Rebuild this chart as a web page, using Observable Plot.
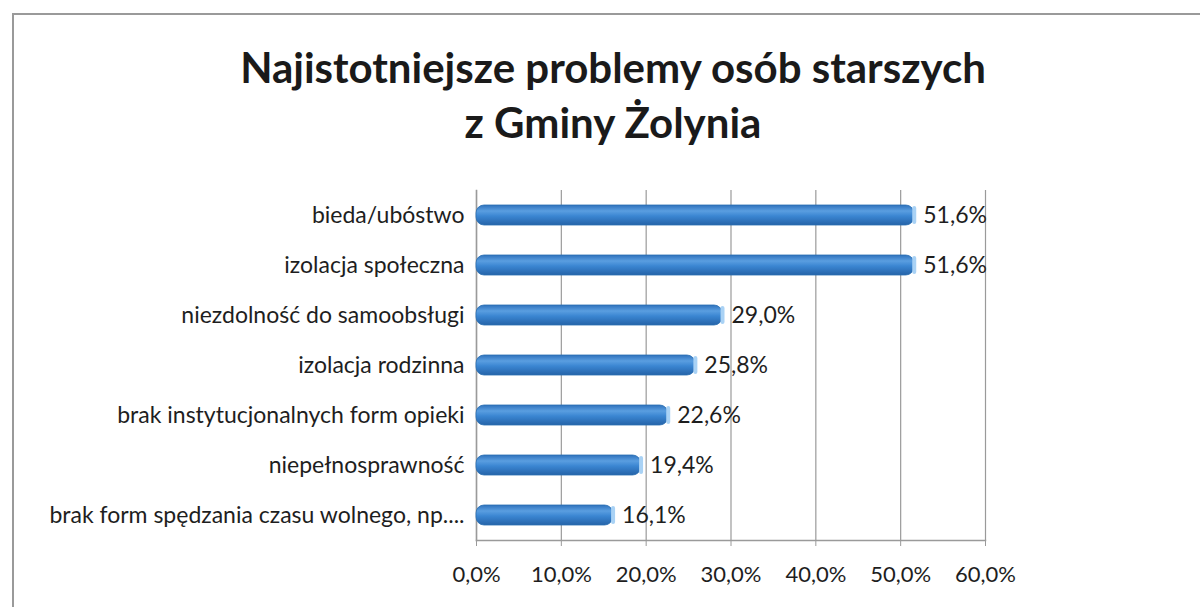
<!DOCTYPE html>
<html>
<head>
<meta charset="utf-8">
<script src="https://cdn.jsdelivr.net/npm/d3@7"></script>
<script src="https://cdn.jsdelivr.net/npm/@observablehq/plot@0.6"></script>
<style>
  html, body { margin: 0; padding: 0; background: #fff; }
  body { width: 1200px; height: 607px; position: relative; overflow: hidden; font-family: Lato, "Open Sans", sans-serif; }
  #frame { position: absolute; left: 12px; top: 13px; width: 1200px; height: 620px; border-top: 2px solid #9a9a9a; border-left: 2px solid #9a9a9a; }
  #title { position: absolute; left: 0; top: 40px; width: 1226px; text-align: center; font-weight: 700; font-size: 42px; line-height: 55px; color: #1a1a1a; }
  #chart { position: absolute; left: 0; top: 160px; }
</style>
</head>
<body>
<div id="frame"></div>
<div id="title">Najistotniejsze problemy osób starszych<br>z Gminy Żolynia</div>
<div id="chart"></div>
<script>
const categories = [
  "bieda/ubóstwo",
  "izolacja społeczna",
  "niezdolność do samoobsługi",
  "izolacja rodzinna",
  "brak instytucjonalnych form opieki",
  "niepełnosprawność",
  "brak form spędzania czasu wolnego, np...."
];
const values = [51.6, 51.6, 29.0, 25.8, 22.6, 19.4, 16.1];
const xTicks = [0, 10, 20, 30, 40, 50, 60];

const data = categories.map((c, i) => ({category: c, value: values[i]}));
const fmt = v => v.toFixed(1).replace(".", ",") + "%";

const plot = Plot.plot({
  width: 1200,
  height: 447,
  marginLeft: 476,
  marginRight: 215,
  marginTop: 30,
  marginBottom: 67,
  style: {fontFamily: "Lato, 'Open Sans', sans-serif", fontSize: "23px", color: "#1e1e1e", background: "transparent"},
  x: {domain: [0, 60], ticks: xTicks, tickFormat: fmt, label: null},
  y: {domain: categories, label: null, paddingInner: 0.6, paddingOuter: 0.3},
  marks: [
    Plot.ruleX(xTicks, {stroke: "#9a9a9a", strokeWidth: 1.2}),
    Plot.frame({anchor: "bottom", stroke: "#9a9a9a", strokeWidth: 1.5}),
    Plot.frame({anchor: "left", stroke: "#9a9a9a", strokeWidth: 1.5}),
    Plot.axisX({ticks: xTicks, tickFormat: fmt, tickSize: 6, tickPadding: 20, stroke: "#9a9a9a", fontSize: 22}),
    Plot.axisY({tickSize: 0, tickPadding: 12, fontSize: 23}),
    Plot.barX(data, {x: "value", y: "category", fill: "url(#cyl)", rx: 8, stroke: "#2a6fb3", strokeWidth: 0.8}),
    Plot.tickX(data, {x: "value", y: "category", stroke: "#a9d2f5", strokeWidth: 4, inset: 3, strokeLinecap: "round"}),
    Plot.text(data, {x: "value", y: "category", text: d => fmt(d.value), textAnchor: "start", dx: 9, fontSize: 23, fill: "#1e1e1e"})
  ]
});

const ns = "http://www.w3.org/2000/svg";
const defs = document.createElementNS(ns, "defs");
defs.innerHTML = `<linearGradient id="cyl" x1="0" y1="0" x2="0" y2="1">
  <stop offset="0" stop-color="#2f72bd"/>
  <stop offset="0.3" stop-color="#5a9ee0"/>
  <stop offset="0.55" stop-color="#3b86d2"/>
  <stop offset="1" stop-color="#2563a8"/>
</linearGradient>`;
plot.insertBefore(defs, plot.firstChild);
document.getElementById("chart").appendChild(plot);
</script>
</body>
</html>
